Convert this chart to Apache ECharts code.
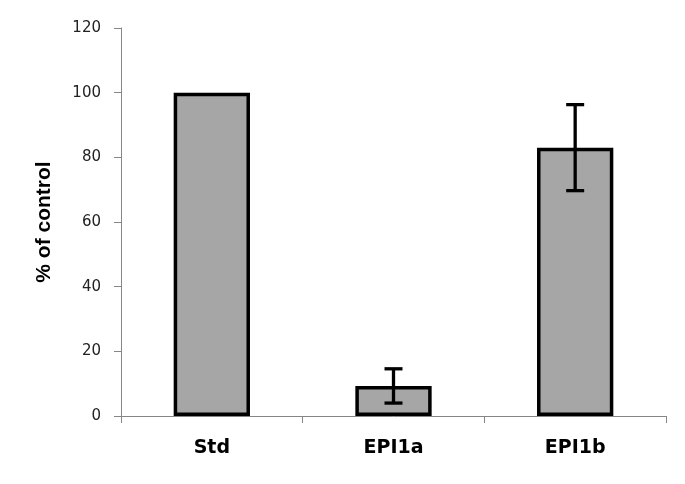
<!DOCTYPE html>
<html>
<head>
<meta charset="utf-8">
<script src="https://cdn.jsdelivr.net/npm/echarts@6/dist/echarts.min.js"></script>
<style>
  html, body { margin: 0; padding: 0; background: #fff; }
  #chart { width: 685px; height: 484px; }
</style>
</head>
<body>
<div id="chart"></div>
<script>
const categories = ['Std', 'EPI1a', 'EPI1b']
const means = [100, 9.3, 83]
const errors = [0, 5.3, 13.3]
const yTicks = { min: 0, max: 120, interval: 20 }

const chart = echarts.init(document.getElementById('chart'), null, { renderer: 'canvas' })

const errData = categories.map((c, i) => [i, means[i] - errors[i], means[i] + errors[i]])

const option = {
  backgroundColor: '#fff',
  animation: false,
  grid: { left: 121, right: 19, top: 28, bottom: 68 },
  xAxis: {
    type: 'category',
    data: categories,
    axisLine: { lineStyle: { color: '#868686', width: 1 } },
    axisTick: { show: true, length: 7, lineStyle: { color: '#868686' } },
    axisLabel: {
      margin: 23,
      fontFamily: 'DejaVu Sans',
      fontWeight: 'bold',
      fontSize: 19,
      color: '#000'
    }
  },
  yAxis: {
    type: 'value',
    min: yTicks.min,
    max: yTicks.max,
    interval: yTicks.interval,
    name: '% of control',
    nameLocation: 'middle',
    nameGap: 66,
    nameTextStyle: {
      fontFamily: 'Liberation Sans',
      fontWeight: 'bold',
      fontSize: 21,
      color: '#000'
    },
    splitLine: { show: false },
    axisLine: { show: true, lineStyle: { color: '#868686', width: 1 } },
    axisTick: { show: true, length: 7, lineStyle: { color: '#868686' } },
    axisLabel: {
      margin: 20,
      fontFamily: 'DejaVu Sans',
      fontSize: 15,
      color: '#222'
    }
  },
  series: [
    {
      type: 'bar',
      data: means,
      barWidth: '42%',
      itemStyle: { color: '#a6a6a6', borderColor: '#000', borderWidth: 3.5 }
    },
    {
      type: 'custom',
      data: errData,
      z: 5,
      renderItem: function (params, api) {
        const x = api.value(0)
        const lo = api.coord([x, api.value(1)])
        const hi = api.coord([x, api.value(2)])
        if (api.value(2) - api.value(1) <= 0) return null
        const cap = 9
        const style = { stroke: '#000', lineWidth: 3.3 }
        return {
          type: 'group',
          children: [
            { type: 'line', shape: { x1: lo[0], y1: lo[1], x2: hi[0], y2: hi[1] }, style },
            { type: 'line', shape: { x1: hi[0] - cap, y1: hi[1], x2: hi[0] + cap, y2: hi[1] }, style },
            { type: 'line', shape: { x1: lo[0] - cap, y1: lo[1], x2: lo[0] + cap, y2: lo[1] }, style }
          ]
        }
      }
    }
  ]
}

chart.setOption(option)
</script>
</body>
</html>
